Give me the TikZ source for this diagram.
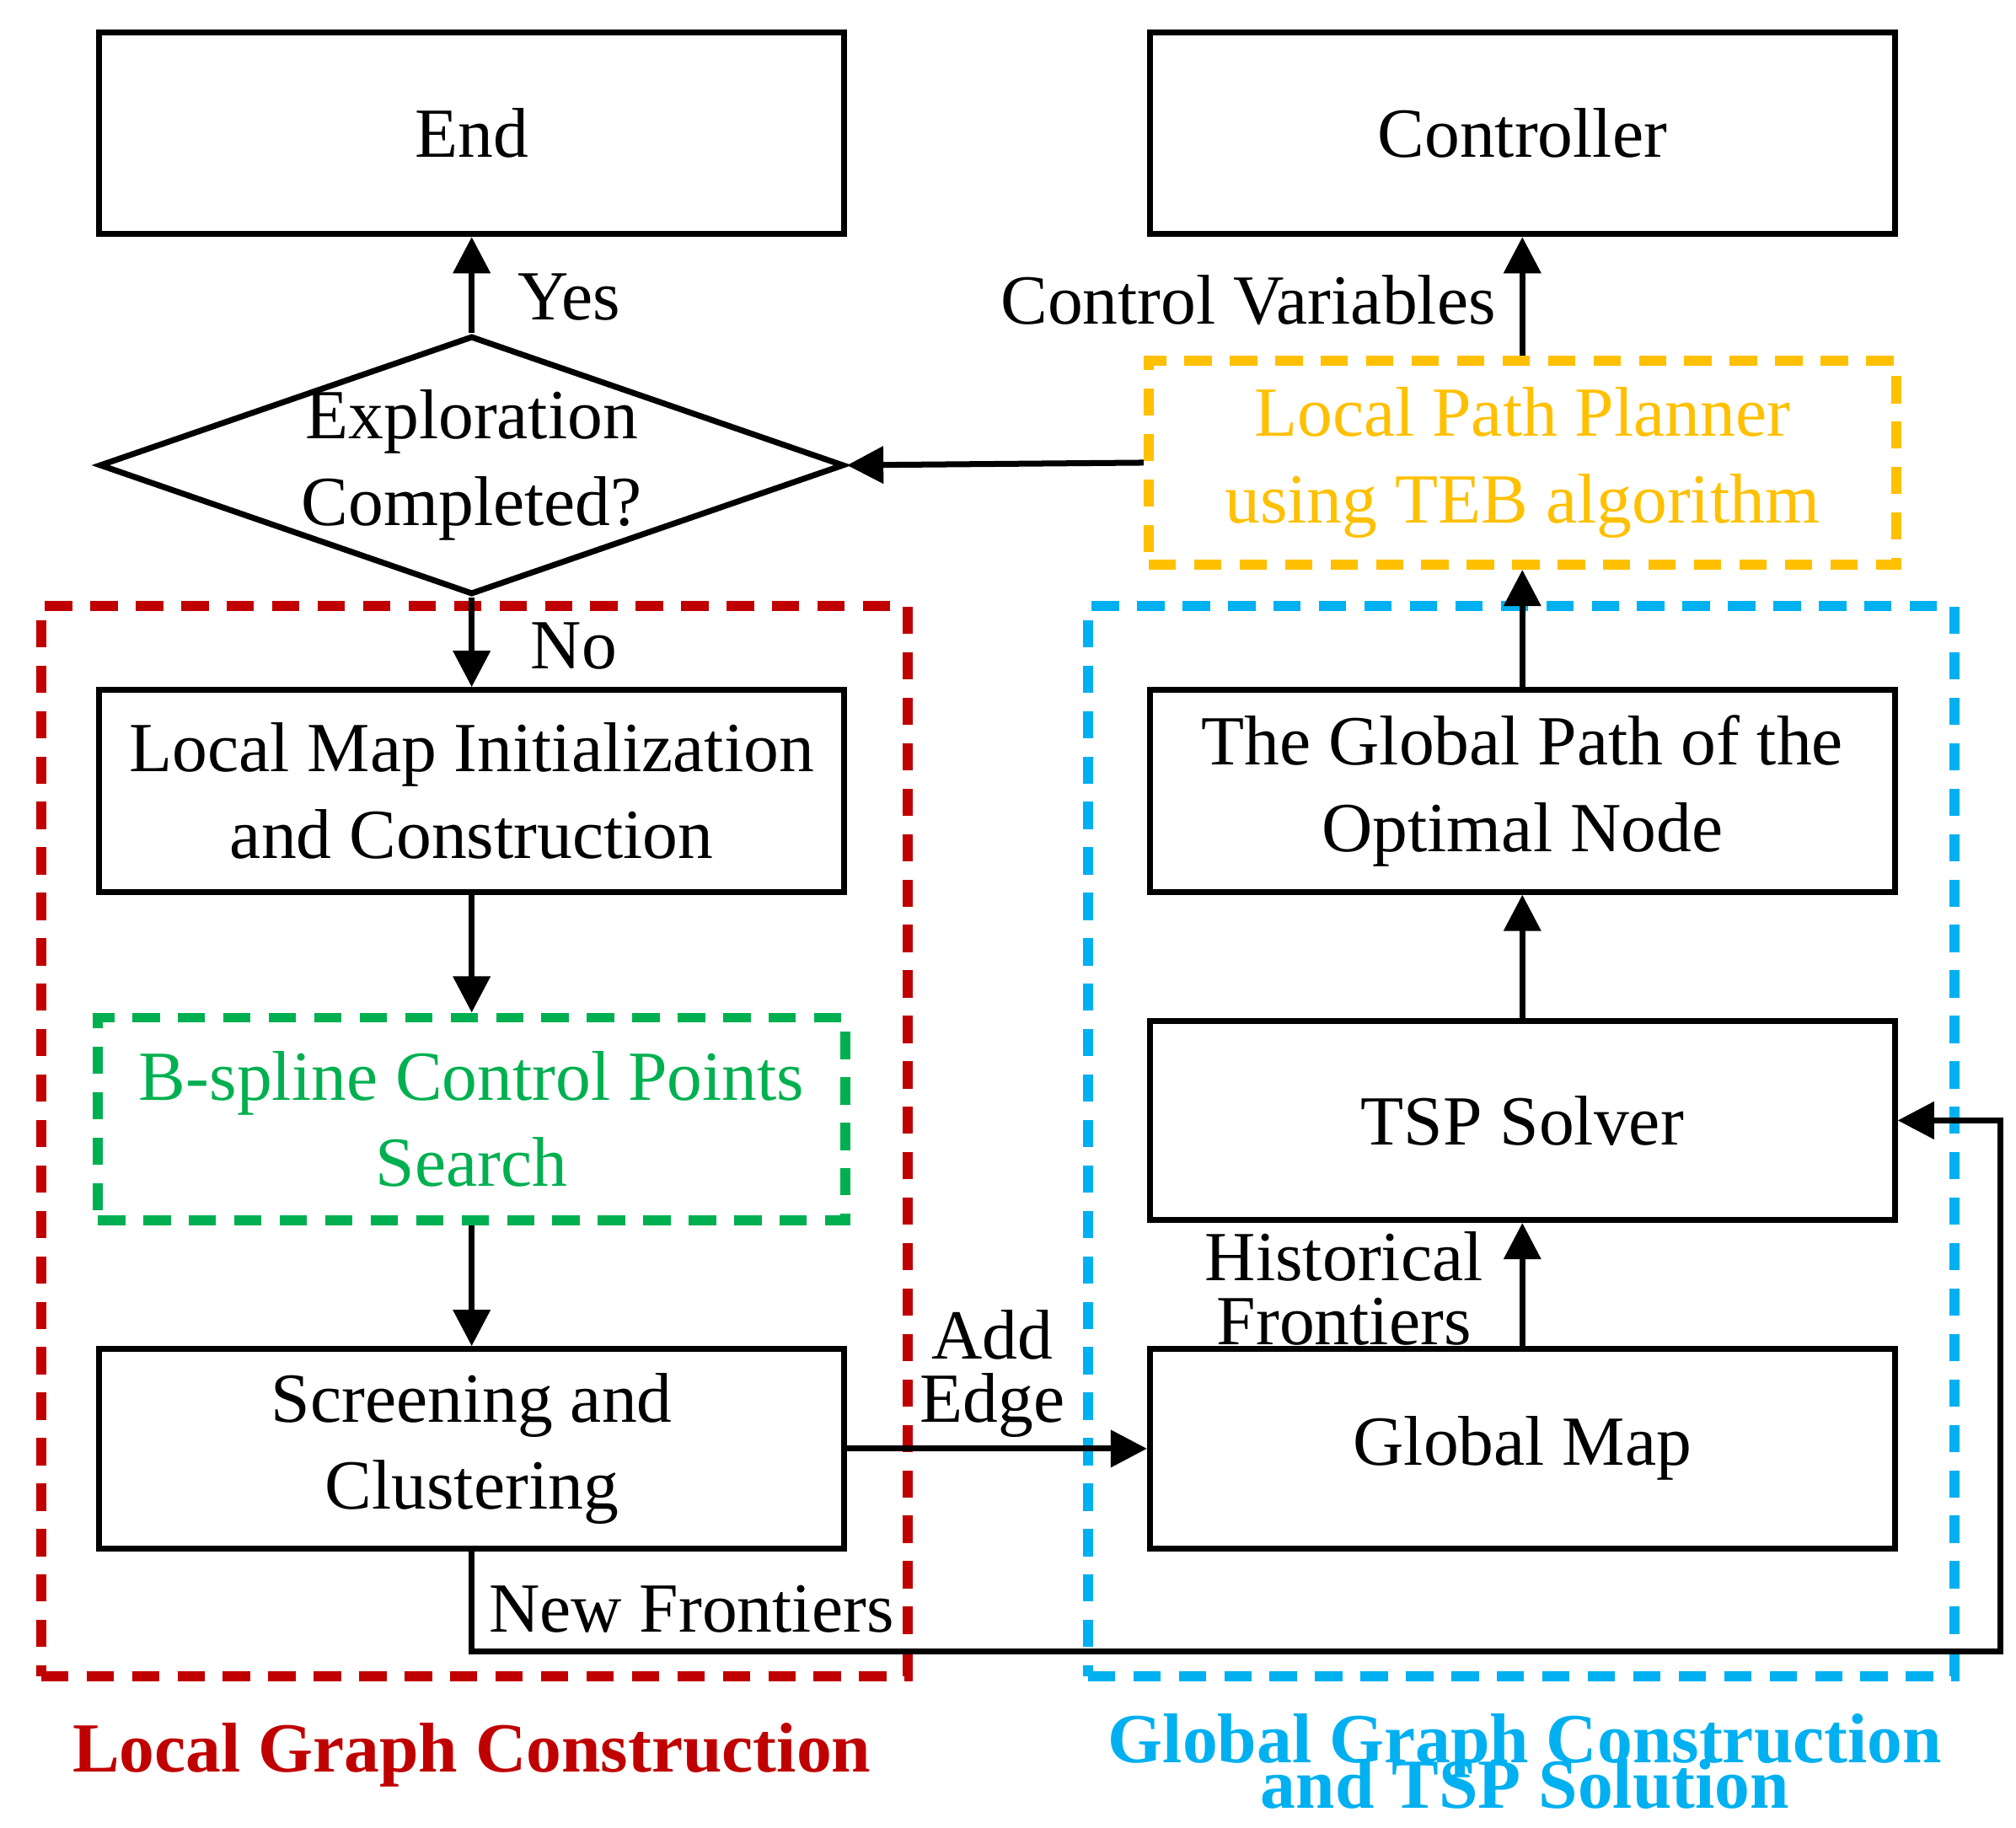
\documentclass[tikz,border=0pt]{standalone}
\usepackage{fontspec}
\setmainfont{Liberation Serif}
\usetikzlibrary{arrows.meta,shapes.geometric}
\definecolor{cred}{RGB}{192,0,0}
\definecolor{cblue}{RGB}{0,176,240}
\definecolor{cgreen}{RGB}{0,176,80}
\definecolor{corange}{RGB}{255,192,0}
\begin{document}
\begin{tikzpicture}[x=0.01cm,y=-0.01cm,
  box/.style={draw,line width=1.3pt,minimum width=5.76cm,minimum height=1.56cm,align=center,font=\fontsize{15.5}{17}\selectfont},
  dbox/.style={draw,line width=2.2pt,dash pattern=on 6pt off 4pt,align=center},
  txt/.style={font=\fontsize{15.5}{15}\selectfont,align=center,inner sep=0pt},
  arr/.style={-{Triangle[length=8pt,width=8pt]},line width=1.3pt}]
\useasboundingbox (0,0) rectangle (1560,1414);
\node[dbox,draw=cred,minimum width=6.7cm,minimum height=8.28cm] (red) at (367,883) {};
\node[dbox,draw=cblue,minimum width=6.7cm,minimum height=8.28cm] (blue) at (1177,883) {};
\node[box] (end) at (365,103) {End};
\node[box] (ctrl) at (1178,103) {Controller};
\node[draw,diamond,aspect=2.85,line width=1.3pt,minimum width=5.76cm,minimum height=2.0cm,inner sep=0pt] (dia) at (365,360) {};
\node[txt] at (365,360) {Exploration\\[4pt]Completed?};
\node[dbox,draw=corange,minimum width=5.78cm,minimum height=1.58cm,text=corange,font=\fontsize{15.5}{17}\selectfont] (lpp) at (1178,358) {Local Path Planner\\[2pt]using TEB algorithm};
\node[box] (lmi) at (365,612) {Local Map Initialization\\[2pt]and Construction};
\node[dbox,draw=cgreen,minimum width=5.78cm,minimum height=1.57cm,text=cgreen,font=\fontsize{15.5}{17}\selectfont] (bsp) at (365,866) {B-spline Control Points\\[2pt]Search};
\node[box,minimum height=1.54cm] (scr) at (365,1121) {Screening and\\[2pt]Clustering};
\node[box] (gp) at (1178,612) {The Global Path of the\\[2pt]Optimal Node};
\node[box,minimum height=1.54cm] (tsp) at (1178,867) {TSP Solver};
\node[box,minimum height=1.54cm] (gm) at (1178,1121) {Global Map};
\draw[arr] (dia.north) -- (end.south);
\node[txt,anchor=west] at (400,230) {Yes};
\draw[arr] (dia.south) -- (lmi.north);
\node[txt,anchor=west] at (410,500) {No};
\draw[arr] (lmi) -- (bsp);
\draw[arr] (bsp) -- (scr);
\draw[arr] (scr.east) -- (gm.west);
\node[txt] at (768,1063) {Add\\[-1pt]Edge};
\draw[arr] (gm) -- (tsp);
\node[txt] at (1040,997) {Historical\\[-1pt]Frontiers};
\draw[arr] (tsp) -- (gp);
\draw[arr] (gp.north) -- (lpp.south);
\draw[arr] (lpp.north) -- (ctrl.south);
\node[txt,anchor=east] at (1158,232) {Control Variables};
\draw[arr] (lpp.west) -- (dia.east);
\coordinate (c1) at (365,1278);
\coordinate (c2) at (1548,1278);
\coordinate (c3) at (1548,867);
\draw[arr] (scr.south) -- (c1) -- (c2) -- (c3) -- (tsp.east);
\node[txt] at (535,1245) {New Frontiers};
\node[txt,text=cred,font=\fontsize{15.5}{15}\selectfont\bfseries] (lt) at (365,1358) {Local Graph Construction};
\node[txt,text=cblue,font=\fontsize{15.5}{15}\selectfont\bfseries] (gt) at (1180,1363) {Global Graph Construction\\[-5pt]and TSP Solution};
\end{tikzpicture}
\end{document}
